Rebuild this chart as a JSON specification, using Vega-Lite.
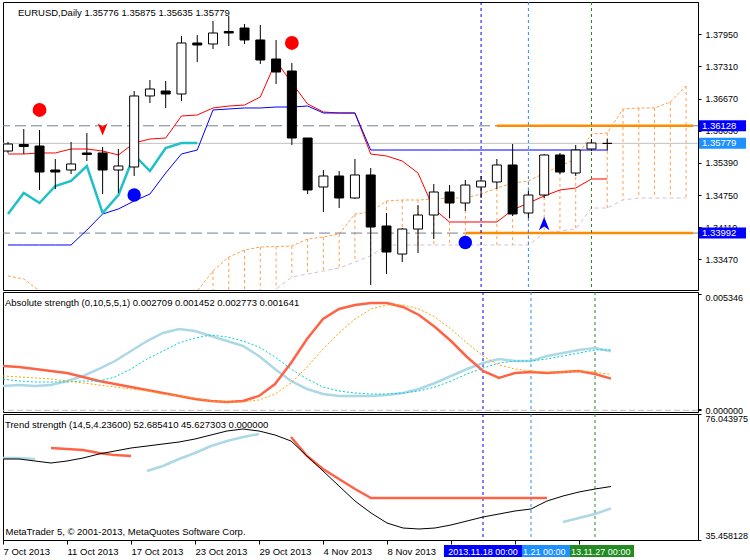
{
"$schema": "https://vega.github.io/schema/vega-lite/v6.json",
"background": "white",
"padding": {"left": 2, "top": 1, "right": 0, "bottom": 0},
"spacing": 2,
"bounds": "flush",
"config": {
  "view": {"stroke": "black", "strokeWidth": 1},
  "font": "Liberation Sans",
  "axis": {"grid": false, "domainColor": "black", "tickColor": "black", "labelColor": "black", "labelFont": "Liberation Sans", "labelFontSize": 9, "tickSize": 3, "labelPadding": 4}
},
"resolve": {"scale": {"x": "independent", "y": "independent"}},
"datasets": {
  "bars": [
    {"i":0,"o":1.35626,"h":1.35806,"l":1.35587,"c":1.35766,"rd":1.35567,"bl":1.33755,"cy":1.34372,"sa":1.33138,"sb":1.3264,"a1":0.002031,"a2":0.001114,"a3":0.001573,"a4":0.001435,"t1":61.55,"t3":61.87},
    {"i":1,"o":1.35756,"h":1.36064,"l":1.35567,"c":1.35716,"rd":1.35567,"bl":1.33755,"cy":1.3479,"sa":1.33078,"sb":1.3264,"a1":0.001985,"a2":0.00116,"a3":0.001527,"a4":0.001343,"t1":61.55,"t3":61.87},
    {"i":2,"o":1.35726,"h":1.36045,"l":1.3485,"c":1.35208,"rd":1.35587,"bl":1.33755,"cy":1.34591,"sa":1.32839,"sb":1.3264,"a1":0.001894,"a2":0.001114,"a3":0.001481,"a4":0.001298,"t1":60.9,"t3":61.55},
    {"i":3,"o":1.35248,"h":1.35467,"l":1.3487,"c":1.35208,"rd":1.35587,"bl":1.33755,"cy":1.3493,"sa":1.3264,"sb":1.3264,"a1":0.001802,"a2":0.00116,"a3":0.001435,"a4":0.001298,"t1":60.26,"t2":65.09},
    {"i":4,"o":1.35248,"h":1.35806,"l":1.35168,"c":1.35368,"rd":1.35666,"bl":1.33755,"cy":1.35029,"sa":1.3264,"sb":1.3264,"a1":0.00171,"a2":0.001343,"a3":0.001343,"a4":0.001298,"t1":60.9,"t2":64.77},
    {"i":5,"o":1.35587,"h":1.35985,"l":1.35427,"c":1.35557,"rd":1.35666,"bl":1.34053,"cy":1.35328,"sa":1.3264,"sb":1.3264,"a1":0.001527,"a2":0.001573,"a3":0.001252,"a4":0.001343,"t1":61.87,"t2":64.45},
    {"i":6,"o":1.35587,"h":1.35706,"l":1.3477,"c":1.35248,"rd":1.35626,"bl":1.34372,"cy":1.34392,"sa":1.3264,"sb":1.3264,"a1":0.001343,"a2":0.001894,"a3":0.00116,"a4":0.001343,"t1":63.16,"t2":63.48},
    {"i":7,"o":1.35248,"h":1.35666,"l":1.3479,"c":1.35328,"rd":1.35547,"bl":1.34472,"cy":1.3475,"sa":1.3264,"sb":1.3264,"a1":0.001206,"a2":0.00226,"a3":0.001068,"a4":0.001527,"t1":64.12,"t2":62.8},
    {"i":8,"o":1.35308,"h":1.36821,"l":1.35129,"c":1.36722,"rd":1.35786,"bl":1.34631,"cy":1.35547,"sa":1.3264,"sb":1.3264,"a1":0.001068,"a2":0.002719,"a3":0.000977,"a4":0.001894,"t1":65.09,"t2":62.51},
    {"i":9,"o":1.36722,"h":1.3704,"l":1.36582,"c":1.36861,"rd":1.35865,"bl":1.3477,"cy":1.35228,"sa":1.3264,"sb":1.3264,"a1":0.000931,"a2":0.003177,"a3":0.000885,"a4":0.002352,"t1":65.73,"t3":57.68},
    {"i":10,"o":1.36821,"h":1.3702,"l":1.36483,"c":1.36761,"rd":1.35885,"bl":1.35188,"cy":1.35686,"sa":1.3264,"sb":1.3264,"a1":0.000793,"a2":0.003544,"a3":0.000747,"a4":0.002719,"t1":66.38,"t3":59.29},
    {"i":11,"o":1.36761,"h":1.37916,"l":1.36622,"c":1.37777,"rd":1.36323,"bl":1.35567,"cy":1.35786,"sa":1.3264,"sb":1.3264,"a1":0.000656,"a2":0.003728,"a3":0.000656,"a4":0.003086,"t1":67.02,"t3":61.55},
    {"i":12,"o":1.37777,"h":1.37936,"l":1.37398,"c":1.37737,"rd":1.36343,"bl":1.35646,"cy":1.35786,"sa":1.32839,"sb":1.3264,"a1":0.000518,"a2":0.003636,"a3":0.000564,"a4":0.003315,"t1":67.99,"t3":63.48},
    {"i":13,"o":1.37757,"h":1.38215,"l":1.37657,"c":1.37976,"rd":1.36483,"bl":1.36443,"sa":1.33237,"sb":1.3264,"a1":0.000426,"a2":0.003407,"a3":0.000426,"a4":0.003453,"t1":69.28,"t3":65.73},
    {"i":14,"o":1.38006,"h":1.38314,"l":1.37717,"c":1.37976,"rd":1.36522,"bl":1.36463,"sa":1.33516,"sb":1.3264,"a1":0.000381,"a2":0.003177,"a3":0.000381,"a4":0.003361,"t1":70.57,"t3":67.35},
    {"i":15,"o":1.38075,"h":1.38155,"l":1.37757,"c":1.37837,"rd":1.36542,"bl":1.36483,"sa":1.33655,"sb":1.3264,"a1":0.000426,"a2":0.002948,"a3":0.000381,"a4":0.003177,"t1":71.21,"t3":68.63},
    {"i":16,"o":1.37837,"h":1.38135,"l":1.37359,"c":1.37438,"rd":1.36702,"bl":1.36483,"sa":1.33715,"sb":1.3264,"a1":0.000656,"a2":0.00249,"a3":0.000472,"a4":0.002902,"t1":70.57,"t3":69.6},
    {"i":17,"o":1.37458,"h":1.37837,"l":1.3696,"c":1.37199,"rd":1.37418,"bl":1.36502,"sa":1.33725,"sb":1.32879,"a1":0.001206,"a2":0.001894,"a3":0.000747,"a4":0.002444,"t1":69.28},
    {"i":18,"o":1.37219,"h":1.37379,"l":1.35746,"c":1.35885,"rd":1.3698,"bl":1.36502,"sa":1.33735,"sb":1.33118,"a1":0.002169,"a2":0.001343,"a3":0.001252,"a4":0.001894,"t1":67.35,"t2":68.63},
    {"i":19,"o":1.35885,"h":1.35885,"l":1.3477,"c":1.3485,"rd":1.36562,"bl":1.36522,"sa":1.33874,"sb":1.33177,"a1":0.003269,"a2":0.000977,"a3":0.001985,"a4":0.001435,"t1":62.51,"t2":62.51},
    {"i":20,"o":1.3491,"h":1.35248,"l":1.34412,"c":1.35129,"rd":1.36403,"bl":1.36383,"sa":1.33914,"sb":1.33237,"a1":0.004186,"a2":0.000747,"a3":0.002811,"a4":0.001068,"t1":57.68,"t2":58.33},
    {"i":21,"o":1.35129,"h":1.35228,"l":1.34491,"c":1.34691,"rd":1.36383,"bl":1.36383,"sa":1.33974,"sb":1.33297,"a1":0.004645,"a2":0.000656,"a3":0.003544,"a4":0.000885,"t1":52.85,"t2":55.11},
    {"i":22,"o":1.34691,"h":1.35467,"l":1.34671,"c":1.35149,"rd":1.36383,"bl":1.36383,"sa":1.34372,"sb":1.33416,"a1":0.004828,"a2":0.000656,"a3":0.004186,"a4":0.000793,"t1":48.02,"t2":51.89},
    {"i":23,"o":1.35149,"h":1.35288,"l":1.32958,"c":1.34113,"rd":1.35567,"bl":1.35646,"sa":1.34412,"sb":1.33536,"a1":0.00492,"a2":0.000656,"a3":0.004645,"a4":0.000747,"t1":44.16,"t2":48.99},
    {"i":24,"o":1.34133,"h":1.34392,"l":1.33177,"c":1.33615,"rd":1.35527,"bl":1.35646,"sa":1.34631,"sb":1.33755,"a1":0.00492,"a2":0.000702,"a3":0.004828,"a4":0.000747,"t1":40.93,"t2":48.99},
    {"i":25,"o":1.33575,"h":1.34093,"l":1.33416,"c":1.34073,"rd":1.35427,"bl":1.35646,"sa":1.34651,"sb":1.33755,"a1":0.004736,"a2":0.000793,"a3":0.004828,"a4":0.000793,"t1":39.32,"t2":48.99},
    {"i":26,"o":1.34073,"h":1.34551,"l":1.33595,"c":1.34352,"rd":1.35188,"bl":1.35646,"sa":1.34651,"sb":1.33755,"a1":0.00437,"a2":0.000977,"a3":0.004645,"a4":0.000885,"t1":39.0,"t2":48.99},
    {"i":27,"o":1.34352,"h":1.34969,"l":1.33874,"c":1.3481,"rd":1.34472,"bl":1.35646,"sa":1.34671,"sb":1.33755,"a1":0.003819,"a2":0.001252,"a3":0.004278,"a4":0.001068,"t1":39.32,"t2":48.99},
    {"i":28,"o":1.3481,"h":1.34949,"l":1.34292,"c":1.34591,"rd":1.34213,"bl":1.35646,"sa":1.34691,"sb":1.33755,"a1":0.003177,"a2":0.001573,"a3":0.003728,"a4":0.001343,"t1":40.29,"t2":48.99},
    {"i":29,"o":1.34591,"h":1.35049,"l":1.34432,"c":1.34949,"rd":1.34213,"bl":1.35646,"sa":1.34691,"sb":1.33755,"a1":0.002444,"a2":0.001894,"a3":0.003086,"a4":0.001664,"t1":41.58,"t2":48.99},
    {"i":30,"o":1.3491,"h":1.35129,"l":1.34691,"c":1.35029,"rd":1.34213,"bl":1.35646,"sa":1.3477,"sb":1.33755,"a1":0.001802,"a2":0.002169,"a3":0.00249,"a4":0.00194,"t1":42.87,"t2":48.99},
    {"i":31,"o":1.35009,"h":1.35467,"l":1.3487,"c":1.35348,"rd":1.34213,"bl":1.35646,"sa":1.3489,"sb":1.33755,"a1":0.001481,"a2":0.002352,"a3":0.002077,"a4":0.002169,"t1":43.83,"t2":48.99},
    {"i":32,"o":1.35348,"h":1.35766,"l":1.34332,"c":1.34372,"rd":1.34452,"bl":1.35646,"sa":1.34989,"sb":1.33755,"a1":0.00171,"a2":0.00226,"a3":0.001894,"a4":0.00226,"t1":44.8,"t2":48.99},
    {"i":33,"o":1.34392,"h":1.3483,"l":1.34292,"c":1.3475,"rd":1.34591,"bl":1.35646,"sa":1.35029,"sb":1.33755,"a1":0.001756,"a2":0.00226,"a3":0.001802,"a4":0.00226,"t1":45.44,"t2":48.99},
    {"i":34,"o":1.3475,"h":1.35567,"l":1.34691,"c":1.35547,"rd":1.3473,"bl":1.35646,"sa":1.35188,"sb":1.33994,"a1":0.00171,"a2":0.00249,"a3":0.001756,"a4":0.002352,"t1":48.02,"t2":48.99},
    {"i":35,"o":1.35547,"h":1.35587,"l":1.35168,"c":1.35208,"rd":1.3485,"bl":1.35646,"sa":1.35328,"sb":1.34034,"a1":0.001756,"a2":0.002627,"a3":0.001756,"a4":0.00249,"t1":49.63,"t3":41.26},
    {"i":36,"o":1.35188,"h":1.35746,"l":1.35129,"c":1.35646,"rd":1.3489,"bl":1.35646,"sa":1.35467,"sb":1.34073,"a1":0.001802,"a2":0.002765,"a3":0.001802,"a4":0.002627,"t1":50.92,"t3":42.54},
    {"i":37,"o":1.35666,"h":1.35865,"l":1.35626,"c":1.35786,"rd":1.35069,"bl":1.35646,"sa":1.35965,"sb":1.34491,"a1":0.001664,"a2":0.002856,"a3":0.001756,"a4":0.002765,"t1":51.89,"t3":43.83},
    {"i":38,"o":1.35776,"h":1.35875,"l":1.35635,"c":1.35779,"rd":1.35069,"bl":1.35646,"sa":1.35985,"sb":1.34491,"a1":0.001452,"a2":0.002709,"a3":0.001641,"a4":0.002773,"t1":52.685,"t3":45.627},
    {"i":39,"sa":1.36463,"sb":1.34651},
    {"i":40,"sa":1.36483,"sb":1.34691},
    {"i":41,"sa":1.36483,"sb":1.34691},
    {"i":42,"sa":1.36602,"sb":1.34691},
    {"i":43,"sa":1.36921,"sb":1.34691}
  ],
  "marks": [
    {"i":2,"p":1.36443,"k":"sdot"},
    {"i":18,"p":1.37777,"k":"sdot"},
    {"i":6,"p":1.36064,"k":"sarrow"},
    {"i":8,"p":1.3475,"k":"bdot"},
    {"i":29,"p":1.33805,"k":"bdot"},
    {"i":34,"p":1.34173,"k":"barrow"}
  ],
  "levels": [
    {"p":1.36128,"kind":"level","start":31},
    {"p":1.33992,"kind":"level","start":29.04},
    {"p":1.35779,"kind":"last"}
  ],
  "vlines": [
    {"i":30,"k":"a","tag":"2013.11.18 00:00"},
    {"i":33,"k":"b","tag":"1.21 00:00"},
    {"i":37,"k":"c","tag":"13.11.27 00:00"}
  ],
  "zero": [{"v": 0}]
},
"vconcat": [
{
  "width": 695, "height": 288,
  "title": {"text": "EURUSD,Daily  1.35776 1.35875 1.35635 1.35779", "anchor": "start", "frame": "group", "offset": -16, "dx": 15, "fontSize": 9.5, "fontWeight": "normal", "font": "Liberation Sans", "color": "black", "baseline": "top"},
  "resolve": {"axis": {"x": "independent", "y": "independent"}},
  "layer": [
    {"data": {"name": "bars"}, "transform": [{"filter": "datum.i >= 12"}],
     "mark": {"type": "rule", "color": "#FFA04D", "strokeDash": [3, 3], "strokeWidth": 1, "clip": true},
     "encoding": {
       "x": {"field": "i", "type": "quantitative", "scale": {"domain": [0, 43.4375], "nice": false, "zero": false}, "axis": null},
       "y": {"field": "sa", "type": "quantitative", "scale": {"domain": [1.32859, 1.38593], "nice": false, "zero": false},
             "axis": {"orient": "right", "values": [1.3795, 1.3731, 1.3667, 1.3603, 1.3539, 1.3475, 1.3411, 1.3347], "format": ".5f", "title": null}},
       "y2": {"field": "sb"}}},
    {"data": {"name": "bars"},
     "mark": {"type": "line", "color": "#FFA04D", "strokeDash": [3, 2], "strokeWidth": 1, "clip": true},
     "encoding": {"x": {"field": "i", "type": "quantitative", "axis": null},
                  "y": {"field": "sa", "type": "quantitative", "scale": {"domain": [1.32859, 1.38593], "nice": false, "zero": false}, "axis": null}}},
    {"data": {"name": "bars"},
     "mark": {"type": "line", "color": "#D8BFD8", "strokeDash": [4, 3], "strokeWidth": 1, "clip": true},
     "encoding": {"x": {"field": "i", "type": "quantitative", "axis": null},
                  "y": {"field": "sb", "type": "quantitative", "scale": {"domain": [1.32859, 1.38593], "nice": false, "zero": false}, "axis": null}}},
    {"data": {"name": "levels"}, "transform": [{"filter": "datum.kind == 'level'"}],
     "mark": {"type": "rule", "color": "#708090", "strokeDash": [11, 5], "strokeWidth": 1},
     "encoding": {"y": {"field": "p", "type": "quantitative", "scale": {"domain": [1.32859, 1.38593], "nice": false, "zero": false}, "axis": null}}},
    {"data": {"name": "levels"}, "transform": [{"filter": "datum.kind == 'last'"}],
     "mark": {"type": "rule", "color": "#C0C0C0", "strokeWidth": 1},
     "encoding": {"y": {"field": "p", "type": "quantitative", "scale": {"domain": [1.32859, 1.38593], "nice": false, "zero": false}, "axis": null}}},
    {"data": {"name": "bars"},
     "mark": {"type": "line", "color": "#FF0000", "strokeWidth": 1, "clip": true},
     "encoding": {"x": {"field": "i", "type": "quantitative", "axis": null},
                  "y": {"field": "rd", "type": "quantitative", "scale": {"domain": [1.32859, 1.38593], "nice": false, "zero": false}, "axis": null}}},
    {"data": {"name": "bars"},
     "mark": {"type": "line", "color": "#0000FF", "strokeWidth": 1, "clip": true},
     "encoding": {"x": {"field": "i", "type": "quantitative", "axis": null},
                  "y": {"field": "bl", "type": "quantitative", "scale": {"domain": [1.32859, 1.38593], "nice": false, "zero": false}, "axis": null}}},
    {"data": {"name": "bars"},
     "mark": {"type": "line", "color": "#20C0C8", "strokeWidth": 2.5, "clip": true},
     "encoding": {"x": {"field": "i", "type": "quantitative", "axis": null},
                  "y": {"field": "cy", "type": "quantitative", "scale": {"domain": [1.32859, 1.38593], "nice": false, "zero": false}, "axis": null}}},
    {"data": {"name": "levels"}, "transform": [{"filter": "datum.kind == 'level'"}],
     "mark": {"type": "rule", "color": "#FF8C00", "strokeWidth": 2.5},
     "encoding": {"x": {"field": "start", "type": "quantitative", "axis": null},
                  "x2": {"datum": 43.4375},
                  "y": {"field": "p", "type": "quantitative", "scale": {"domain": [1.32859, 1.38593], "nice": false, "zero": false}, "axis": null}}},
    {"data": {"name": "vlines"},
     "mark": {"type": "rule", "strokeDash": [3, 3], "strokeWidth": 1},
     "encoding": {"x": {"field": "i", "type": "quantitative", "axis": null},
                  "color": {"field": "k", "type": "nominal", "scale": {"domain": ["a", "b", "c"], "range": ["#0000FF", "#1E90FF", "#228B22"]}, "legend": null}}},
    {"data": {"name": "bars"}, "transform": [{"filter": "isValid(datum.o)"}],
     "mark": {"type": "rule", "color": "black", "strokeWidth": 1, "clip": true},
     "encoding": {"x": {"field": "i", "type": "quantitative", "axis": null},
                  "y": {"field": "l", "type": "quantitative", "scale": {"domain": [1.32859, 1.38593], "nice": false, "zero": false}, "axis": null},
                  "y2": {"field": "h"}}},
    {"data": {"name": "bars"}, "transform": [{"filter": "isValid(datum.o)"}],
     "mark": {"type": "bar", "width": 9, "stroke": "black", "strokeWidth": 1, "clip": true},
     "encoding": {"x": {"field": "i", "type": "quantitative", "axis": null},
                  "y": {"field": "o", "type": "quantitative", "scale": {"domain": [1.32859, 1.38593], "nice": false, "zero": false}, "axis": null},
                  "y2": {"field": "c"},
                  "color": {"condition": {"test": "datum.o > datum.c", "value": "black"}, "value": "white"}}},
    {"data": {"name": "marks"}, "transform": [{"filter": "datum.k == 'sdot'"}],
     "mark": {"type": "point", "shape": "circle", "filled": true, "color": "#FF0000", "size": 190, "opacity": 1},
     "encoding": {"x": {"field": "i", "type": "quantitative", "axis": null},
                  "y": {"field": "p", "type": "quantitative", "scale": {"domain": [1.32859, 1.38593], "nice": false, "zero": false}, "axis": null}}},
    {"data": {"name": "marks"}, "transform": [{"filter": "datum.k == 'sarrow'"}],
     "mark": {"type": "point", "shape": "M0,1L-0.75,-0.9L0,-0.35L0.75,-0.9Z", "filled": true, "color": "#FF0000", "size": 170, "opacity": 1},
     "encoding": {"x": {"field": "i", "type": "quantitative", "axis": null},
                  "y": {"field": "p", "type": "quantitative", "scale": {"domain": [1.32859, 1.38593], "nice": false, "zero": false}, "axis": null}}},
    {"data": {"name": "marks"}, "transform": [{"filter": "datum.k == 'bdot'"}],
     "mark": {"type": "point", "shape": "circle", "filled": true, "color": "#0000FF", "size": 180, "opacity": 1},
     "encoding": {"x": {"field": "i", "type": "quantitative", "axis": null},
                  "y": {"field": "p", "type": "quantitative", "scale": {"domain": [1.32859, 1.38593], "nice": false, "zero": false}, "axis": null}}},
    {"data": {"name": "marks"}, "transform": [{"filter": "datum.k == 'barrow'"}],
     "mark": {"type": "point", "shape": "M0,-1L0.75,0.9L0,0.35L-0.75,0.9Z", "filled": true, "color": "#0000FF", "size": 200, "opacity": 1},
     "encoding": {"x": {"field": "i", "type": "quantitative", "axis": null},
                  "y": {"field": "p", "type": "quantitative", "scale": {"domain": [1.32859, 1.38593], "nice": false, "zero": false}, "axis": null}}},
    {"data": {"name": "levels"},
     "mark": {"type": "tick", "orient": "horizontal", "size": 47, "thickness": 11, "opacity": 1},
     "encoding": {"x": {"value": 719.5},
                  "y": {"field": "p", "type": "quantitative", "scale": {"domain": [1.32859, 1.38593], "nice": false, "zero": false}, "axis": null},
                  "color": {"field": "kind", "type": "nominal", "scale": {"domain": ["level", "last"], "range": ["#778899", "#C0C0C0"]}, "legend": null}}},
    {"data": {"name": "levels"},
     "mark": {"type": "text", "align": "left", "baseline": "middle", "color": "white", "fontSize": 9.5, "font": "Liberation Sans"},
     "encoding": {"x": {"value": 699},
                  "y": {"field": "p", "type": "quantitative", "scale": {"domain": [1.32859, 1.38593], "nice": false, "zero": false}, "axis": null},
                  "text": {"field": "p", "type": "quantitative", "format": ".5f"}}}
  ]
},
{
  "width": 695, "height": 120,
  "title": {"text": "Absolute strength (0,10,5,5,1) 0.002709 0.001452 0.002773 0.001641", "anchor": "start", "frame": "group", "offset": -16, "dx": 2, "fontSize": 9.5, "fontWeight": "normal", "font": "Liberation Sans", "color": "black", "baseline": "top"},
  "resolve": {"axis": {"x": "independent", "y": "independent"}},
  "layer": [
    {"data": {"name": "zero"},
     "mark": {"type": "rule", "color": "#C0C0C0", "strokeDash": [6, 3], "strokeWidth": 1},
     "encoding": {"y": {"field": "v", "type": "quantitative", "scale": {"domain": [-0.000078, 0.005424], "nice": false, "zero": false},
                        "axis": {"orient": "right", "values": [0.005346, 0.000081, 0], "format": ".6f", "title": null,
                                 "labelBaseline": {"condition": {"test": "datum.value > 0.005", "value": "top"}, "value": "middle"}}}}},
    {"data": {"name": "vlines"},
     "mark": {"type": "rule", "strokeDash": [3, 3], "strokeWidth": 1},
     "encoding": {"x": {"field": "i", "type": "quantitative", "scale": {"domain": [0, 43.4375], "nice": false, "zero": false}, "axis": null},
                  "color": {"field": "k", "type": "nominal", "scale": {"domain": ["a", "b", "c"], "range": ["#0000FF", "#1E90FF", "#228B22"]}, "legend": null}}},
    {"data": {"name": "bars"},
     "mark": {"type": "line", "color": "#ADD8E6", "strokeWidth": 2.5, "clip": true},
     "encoding": {"x": {"field": "i", "type": "quantitative", "axis": null},
                  "y": {"field": "a2", "type": "quantitative", "scale": {"domain": [-0.000078, 0.005424], "nice": false, "zero": false}, "axis": null}}},
    {"data": {"name": "bars"},
     "mark": {"type": "line", "color": "#FF6347", "strokeWidth": 2.5, "clip": true},
     "encoding": {"x": {"field": "i", "type": "quantitative", "axis": null},
                  "y": {"field": "a1", "type": "quantitative", "scale": {"domain": [-0.000078, 0.005424], "nice": false, "zero": false}, "axis": null}}},
    {"data": {"name": "bars"},
     "mark": {"type": "line", "color": "#00CED1", "strokeWidth": 1, "strokeDash": [2, 2], "clip": true},
     "encoding": {"x": {"field": "i", "type": "quantitative", "axis": null},
                  "y": {"field": "a4", "type": "quantitative", "scale": {"domain": [-0.000078, 0.005424], "nice": false, "zero": false}, "axis": null}}},
    {"data": {"name": "bars"},
     "mark": {"type": "line", "color": "#FFA500", "strokeWidth": 1, "strokeDash": [2, 2], "clip": true},
     "encoding": {"x": {"field": "i", "type": "quantitative", "axis": null},
                  "y": {"field": "a3", "type": "quantitative", "scale": {"domain": [-0.000078, 0.005424], "nice": false, "zero": false}, "axis": null}}}
  ]
},
{
  "width": 695, "height": 126,
  "title": {"text": "Trend strength (14,5,4.23600) 52.685410 45.627303 0.000000", "anchor": "start", "frame": "group", "offset": -16, "dx": 2, "fontSize": 9.5, "fontWeight": "normal", "font": "Liberation Sans", "color": "black", "baseline": "top"},
  "resolve": {"axis": {"x": "independent", "y": "independent"}},
  "layer": [
    {"data": {"name": "vlines"},
     "mark": {"type": "rule", "strokeDash": [3, 3], "strokeWidth": 1},
     "encoding": {"x": {"field": "i", "type": "quantitative", "scale": {"domain": [0, 43.4375], "nice": false, "zero": false},
                        "axis": {"orient": "bottom", "values": [0, 4, 8, 12, 16, 20, 24, 28, 32, 36],
                                 "labelExpr": "['7 Oct 2013','11 Oct 2013','17 Oct 2013','23 Oct 2013','29 Oct 2013','4 Nov 2013','8 Nov 2013','','',''][round(datum.value/4)]",
                                 "labelAlign": "left", "labelFlush": false, "labelOverlap": false, "labelPadding": 2, "tickSize": 4, "labelFontSize": 9.5,
                                 "title": "MetaTrader 5, © 2001-2013, MetaQuotes Software Corp.", "titleX": 2, "titleY": -4, "titleAlign": "left", "titleAnchor": "start",
                                 "titleFont": "Liberation Sans", "titleFontSize": 9.5, "titleFontWeight": "normal", "titleColor": "black", "titleBaseline": "bottom"}},
                  "color": {"field": "k", "type": "nominal", "scale": {"domain": ["a", "b", "c"], "range": ["#0000FF", "#1E90FF", "#228B22"]}, "legend": null}}},
    {"data": {"name": "bars"},
     "mark": {"type": "line", "color": "#ADD8E6", "strokeWidth": 2.5, "clip": true},
     "encoding": {"x": {"field": "i", "type": "quantitative", "axis": null},
                  "y": {"field": "t3", "type": "quantitative", "scale": {"domain": [35.458128, 76.043975], "nice": false, "zero": false}, "axis": null}}},
    {"data": {"name": "bars"},
     "mark": {"type": "line", "color": "#FF6347", "strokeWidth": 2.5, "clip": true},
     "encoding": {"x": {"field": "i", "type": "quantitative", "axis": null},
                  "y": {"field": "t2", "type": "quantitative", "scale": {"domain": [35.458128, 76.043975], "nice": false, "zero": false}, "axis": null}}},
    {"data": {"name": "bars"},
     "mark": {"type": "line", "color": "black", "strokeWidth": 1, "clip": true},
     "encoding": {"x": {"field": "i", "type": "quantitative", "axis": null},
                  "y": {"field": "t1", "type": "quantitative", "scale": {"domain": [35.458128, 76.043975], "nice": false, "zero": false},
                        "axis": {"orient": "right", "values": [35.458128, 76.043975], "format": ".6f", "title": null,
                                 "labelBaseline": {"condition": {"test": "datum.value > 50", "value": "top"}, "value": "bottom"}}}}},
    {"data": {"name": "vlines"}, "transform": [{"filter": "datum.k == 'c'"}, {"calculate": "datum.i - 2.44", "as": "x0"}, {"calculate": "datum.i + 2.44", "as": "x1"}],
     "mark": {"type": "rect", "color": "#228B22"},
     "encoding": {"x": {"field": "x0", "type": "quantitative", "axis": null}, "x2": {"field": "x1"}, "y": {"value": 131}, "y2": {"value": 143}}},
    {"data": {"name": "vlines"}, "transform": [{"filter": "datum.k == 'b'"}, {"calculate": "datum.i - 2.44", "as": "x0"}, {"calculate": "datum.i + 2.44", "as": "x1"}],
     "mark": {"type": "rect", "color": "#1E90FF"},
     "encoding": {"x": {"field": "x0", "type": "quantitative", "axis": null}, "x2": {"field": "x1"}, "y": {"value": 131}, "y2": {"value": 143}}},
    {"data": {"name": "vlines"}, "transform": [{"filter": "datum.k == 'a'"}, {"calculate": "datum.i - 2.44", "as": "x0"}, {"calculate": "datum.i + 2.44", "as": "x1"}],
     "mark": {"type": "rect", "color": "#0000FF"},
     "encoding": {"x": {"field": "x0", "type": "quantitative", "axis": null}, "x2": {"field": "x1"}, "y": {"value": 131}, "y2": {"value": 143}}},
    {"data": {"name": "vlines"}, "transform": [{"filter": "datum.k == 'a'"}],
     "mark": {"type": "text", "color": "white", "align": "center", "baseline": "middle", "fontSize": 9, "font": "Liberation Sans"},
     "encoding": {"x": {"field": "i", "type": "quantitative", "axis": null}, "y": {"value": 137.5}, "text": {"field": "tag"}}},
    {"data": {"name": "vlines"}, "transform": [{"filter": "datum.k == 'b'"}, {"calculate": "datum.i - 0.5", "as": "tx"}],
     "mark": {"type": "text", "color": "white", "align": "left", "baseline": "middle", "fontSize": 9, "font": "Liberation Sans"},
     "encoding": {"x": {"field": "tx", "type": "quantitative", "axis": null}, "y": {"value": 137.5}, "text": {"field": "tag"}}},
    {"data": {"name": "vlines"}, "transform": [{"filter": "datum.k == 'c'"}, {"calculate": "datum.i - 1.5", "as": "tx"}],
     "mark": {"type": "text", "color": "white", "align": "left", "baseline": "middle", "fontSize": 9, "font": "Liberation Sans"},
     "encoding": {"x": {"field": "tx", "type": "quantitative", "axis": null}, "y": {"value": 137.5}, "text": {"field": "tag"}}}
  ]
}
]
}
